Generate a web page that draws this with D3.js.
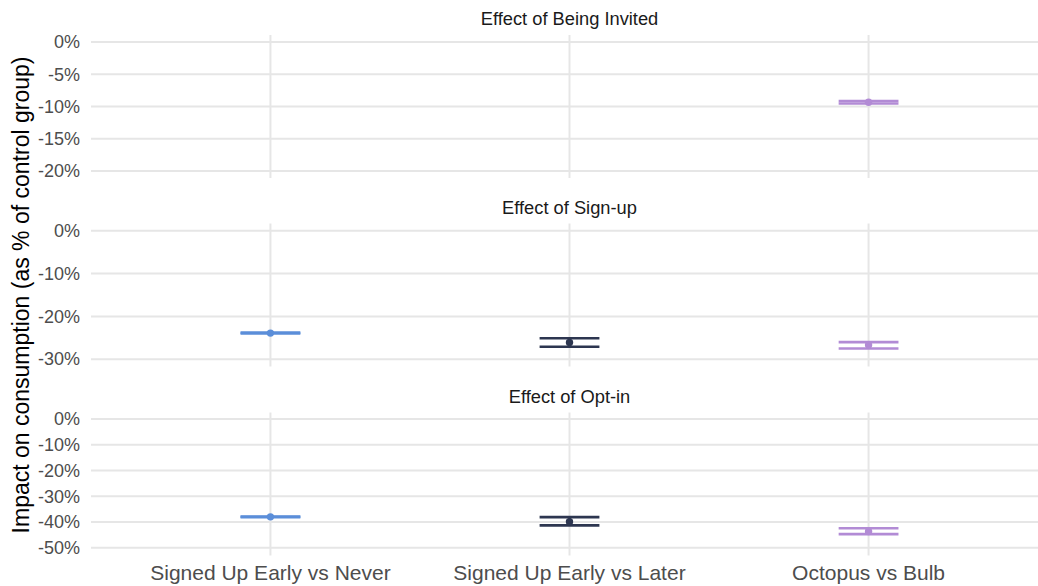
<!DOCTYPE html>
<html>
<head>
<meta charset="utf-8">
<script src="https://cdn.jsdelivr.net/npm/d3@7"></script>
<style>
  body { margin: 0; background: #fff; }
  svg { font-family: "Liberation Sans", Arial, sans-serif; }
</style>
</head>
<body>
<svg width="1038" height="586"></svg>
<script>
// categories on the x axis
var categories = ["Signed Up Early vs Never", "Signed Up Early vs Later", "Octopus vs Bulb"];
var colors = ["#5b8ed9", "#2d3650", "#b28bd5"];

// one facet per effect
var panels = ["Effect of Being Invited", "Effect of Sign-up", "Effect of Opt-in"];
var panelTicks = [[0, -5, -10, -15, -20], [0, -10, -20, -30], [0, -10, -20, -30, -40, -50]];
var panelDomains = [[-21.1, 1.09], [-31.7, 1.68], [-53.0, 2.53]];

// estimates (% of control group), null = not shown
var invitedEst   = [null, null, -9.35];
var invitedLower = [null, null, -9.55];
var invitedUpper = [null, null, -9.15];

var signupEst   = [-23.9, -26.1, -26.7];
var signupLower = [-24.0, -27.1, -27.5];
var signupUpper = [-23.8, -25.1, -26.0];

var optinEst   = [-38.0, -39.9, -43.7];
var optinLower = [-38.1, -41.3, -44.7];
var optinUpper = [-37.9, -38.1, -42.4];

var estimates = [invitedEst, signupEst, optinEst];
var lowers = [invitedLower, signupLower, optinLower];
var uppers = [invitedUpper, signupUpper, optinUpper];

var svg = d3.select("svg");
var plotLeft = 91, plotRight = 1048;
var panelTops = [35, 223.5, 412.5];
var panelHeight = 143;
var gridColor = "#e6e6e6";

var x = d3.scalePoint().domain(categories).range([plotLeft, plotRight]).padding(0.6);
var barHalf = x.step() * 0.1;

panels.forEach(function(title, p) {
  var top = panelTops[p];
  var y = d3.scaleLinear().domain(panelDomains[p]).range([top + panelHeight, top]);
  var g = svg.append("g").attr("class", "panel");

  // horizontal grid
  g.selectAll("line.hgrid")
    .data(panelTicks[p])
    .enter().append("line")
    .attr("class", "hgrid")
    .attr("x1", plotLeft).attr("x2", plotRight)
    .attr("y1", function(d) { return y(d); })
    .attr("y2", function(d) { return y(d); })
    .style("stroke", gridColor).style("stroke-width", 2);

  // vertical grid
  g.selectAll("line.vgrid")
    .data(categories)
    .enter().append("line")
    .attr("class", "vgrid")
    .attr("x1", function(d) { return x(d); })
    .attr("x2", function(d) { return x(d); })
    .attr("y1", top).attr("y2", top + panelHeight)
    .style("stroke", gridColor).style("stroke-width", 2);

  // y axis labels
  var yAxis = d3.axisLeft(y).tickValues(panelTicks[p]).tickSize(0).tickPadding(0)
    .tickFormat(function(d) { return d + "%"; });
  var gy = g.append("g").attr("transform", "translate(80,0)").call(yAxis);
  gy.select(".domain").remove();
  gy.selectAll("text")
    .style("font-size", "18px")
    .style("fill", "#4d4d4d")
    .style("font-family", "Liberation Sans, Arial, sans-serif");

  // strip title
  g.append("text")
    .attr("x", (plotLeft + plotRight) / 2)
    .attr("y", top - 10)
    .attr("text-anchor", "middle")
    .style("font-size", "18.3px")
    .style("fill", "#1a1a1a")
    .text(title);

  var rows = categories.map(function(c, i) {
    return { cat: c, est: estimates[p][i], lo: lowers[p][i], hi: uppers[p][i], color: colors[i] };
  }).filter(function(d) { return d.est != null; });

  var eb = g.selectAll("g.eb").data(rows).enter().append("g").attr("class", "eb");

  eb.append("line")
    .attr("x1", function(d) { return x(d.cat); })
    .attr("x2", function(d) { return x(d.cat); })
    .attr("y1", function(d) { return y(d.lo); })
    .attr("y2", function(d) { return y(d.hi); })
    .style("stroke", function(d) { return d.color; })
    .style("stroke-width", 2.6);

  ["lo", "hi"].forEach(function(k) {
    eb.append("line")
      .attr("x1", function(d) { return x(d.cat) - barHalf; })
      .attr("x2", function(d) { return x(d.cat) + barHalf; })
      .attr("y1", function(d) { return y(d[k]); })
      .attr("y2", function(d) { return y(d[k]); })
      .style("stroke", function(d) { return d.color; })
      .style("stroke-width", 2.6);
  });

  eb.append("circle")
    .attr("cx", function(d) { return x(d.cat); })
    .attr("cy", function(d) { return y(d.est); })
    .attr("r", 3.7)
    .style("fill", function(d) { return d.color; });
});

// x axis labels
svg.selectAll("text.xlab")
  .data(categories)
  .enter().append("text")
  .attr("class", "xlab")
  .attr("x", function(d) { return x(d); })
  .attr("y", 580)
  .attr("text-anchor", "middle")
  .style("font-size", "21px")
  .style("fill", "#4d4d4d")
  .text(function(d) { return d; });

// y axis title
svg.append("text")
  .attr("transform", "translate(28.5," + 295 + ") rotate(-90)")
  .attr("text-anchor", "middle")
  .style("font-size", "23px")
  .style("fill", "#000")
  .text("Impact on consumption (as % of control group)");
</script>
</body>
</html>
